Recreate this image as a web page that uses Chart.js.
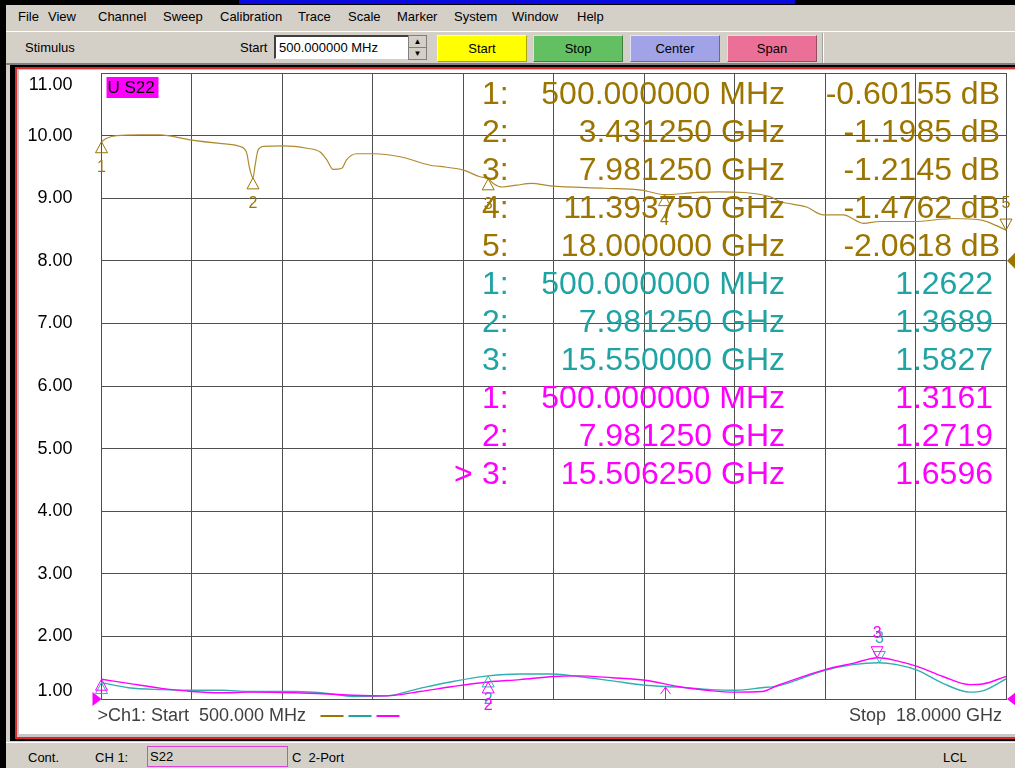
<!DOCTYPE html>
<html>
<head>
<meta charset="utf-8">
<title>S22 sweep</title>
<script src="https://cdn.jsdelivr.net/npm/chart.js@4.4.1/dist/chart.umd.min.js"></script>
<style>
  body { margin: 0; width: 1015px; height: 768px; overflow: hidden; position: relative;
         background: #d4d0c8; font-family: "Liberation Sans", Arial, sans-serif; font-size: 13px; color: #000; }
  .abs { position: absolute; white-space: nowrap; }
  .menu { top: 9px; }
  .btn { top: 35px; height: 25px; line-height: 25px; text-align: center;
         border-top: 1px solid rgba(255,255,255,0.7); border-left: 1px solid rgba(255,255,255,0.7);
         border-right: 1px solid rgba(0,0,0,0.35); border-bottom: 1px solid rgba(0,0,0,0.35); }
  #plotWin canvas { position: absolute; left: 0; top: 0; }
</style>
</head>
<body>
<!-- window edges -->
<div class="abs" style="left:0;top:0;width:1015px;height:5px;background:#000"></div>
<div class="abs" style="left:239px;top:0;width:556px;height:4px;background:#0a0ae0"></div>
<div class="abs" style="left:0;top:0;width:6px;height:768px;background:#000"></div>

<!-- menu bar -->
<div class="abs menu" style="left:18px">File</div>
<div class="abs menu" style="left:48px">View</div>
<div class="abs menu" style="left:98px">Channel</div>
<div class="abs menu" style="left:163px">Sweep</div>
<div class="abs menu" style="left:220px">Calibration</div>
<div class="abs menu" style="left:298px">Trace</div>
<div class="abs menu" style="left:348px">Scale</div>
<div class="abs menu" style="left:397px">Marker</div>
<div class="abs menu" style="left:454px">System</div>
<div class="abs menu" style="left:512px">Window</div>
<div class="abs menu" style="left:577px">Help</div>
<div class="abs" style="left:6px;top:31px;width:1009px;height:1px;background:#fff"></div>

<!-- stimulus toolbar -->
<div class="abs" style="left:25px;top:40px">Stimulus</div>
<div class="abs" style="left:240px;top:40px">Start</div>
<div class="abs" style="left:274px;top:35px;width:129px;height:21px;background:#fff;border-top:2px solid #404040;border-left:2px solid #404040;border-right:1px solid #fff;border-bottom:1px solid #fff;line-height:21px;padding-left:3px;box-sizing:content-box">500.000000 MHz</div>
<div class="abs" style="left:408px;top:35px;width:17px;height:11px;background:#d4d0c8;border:1px solid #808080;font-size:8px;line-height:11px;text-align:center">&#9650;</div>
<div class="abs" style="left:408px;top:47px;width:17px;height:11px;background:#d4d0c8;border:1px solid #808080;font-size:8px;line-height:11px;text-align:center">&#9660;</div>
<div class="abs btn" style="left:437px;width:88px;background:#ffff00">Start</div>
<div class="abs btn" style="left:533px;width:88px;background:#62c062">Stop</div>
<div class="abs btn" style="left:630px;width:88px;background:#a2a2e6">Center</div>
<div class="abs btn" style="left:727px;width:88px;background:#ea7098">Span</div>
<div class="abs" style="left:823px;top:33px;width:1px;height:30px;background:#fff"></div>
<div class="abs" style="left:822px;top:33px;width:1px;height:30px;background:#a0a0a0"></div>

<!-- plot window frame -->
<div class="abs" style="left:6px;top:63px;width:1009px;height:2px;background:#808080"></div>
<div class="abs" style="left:10px;top:65px;width:1005px;height:676px;background:#000"></div>
<div class="abs" style="left:15px;top:67px;width:1000px;height:672px;background:#e02828"></div>
<div class="abs" style="left:17px;top:69px;width:998px;height:668px;background:#c8c8c8"></div>
<div id="plotWin" class="abs" style="left:19px;top:70px;width:996px;height:664px;background:#fff">
  <canvas id="vnaChart" width="996" height="664"></canvas>
</div>

<!-- status bar -->
<div class="abs" style="left:6px;top:742px;width:1009px;height:1px;background:#fff"></div>
<div class="abs" style="left:28px;top:750px">Cont.</div>
<div class="abs" style="left:95px;top:750px">CH 1:</div>
<div class="abs" style="left:147px;top:746px;width:137px;height:19px;border:1px solid #e040e0;line-height:19px;padding-left:2px;box-sizing:content-box">S22</div>
<div class="abs" style="left:292px;top:750px">C&nbsp; 2-Port</div>
<div class="abs" style="left:943px;top:750px">LCL</div>

<script>
'use strict';

// Stimulus grid (GHz): 10 divisions from 500 MHz to 18 GHz
const gridFreqs = [0.5, 2.25, 4.0, 5.75, 7.5, 9.25, 11.0, 12.75, 14.5, 16.25, 18.0];

// Response grid (SWR, 1 unit/div) and its labels
const swrTicks = [1, 2, 3, 4, 5, 6, 7, 8, 9, 10, 11];
const swrTickLabels = ['1.00', '2.00', '3.00', '4.00', '5.00', '6.00', '7.00', '8.00', '9.00', '10.00', '11.00'];

// dB trace (brown)
const brownFreqs = [0.50, 0.60, 0.79, 1.24, 1.63, 2.21, 2.79, 3.18, 3.31, 3.36, 3.43125, 3.47, 3.53, 3.63,
  4.02, 4.47, 4.73, 4.86, 4.98, 5.15, 5.24, 5.44, 5.76, 6.28, 6.86, 7.05, 7.50, 7.82, 7.98125, 8.08,
  8.25, 8.53, 8.82, 9.18, 10.24, 10.95, 11.39375, 12.02, 12.44, 13.43, 13.63, 14.14, 14.47, 14.85,
  15.24, 15.56, 16.21, 16.98, 17.55, 17.79, 18.0];
const brownDb = [-0.60155, -0.545, -0.50, -0.49, -0.49, -0.57, -0.63, -0.68, -0.79, -1.02, -1.1985, -1.0, -0.74, -0.68,
  -0.67, -0.71, -0.77, -0.90, -1.06, -1.04, -0.90, -0.80, -0.80, -0.85, -0.99, -1.01, -1.07, -1.18, -1.2145, -1.29,
  -1.35, -1.32, -1.29, -1.33, -1.37, -1.40, -1.4762, -1.44, -1.43, -1.51, -1.59, -1.68, -1.81, -1.81,
  -1.95, -1.92, -1.92, -1.87, -1.90, -1.98, -2.0618];

// SWR traces (teal and magenta)
const swrFreqs = [0.50, 1.02, 1.66, 2.25, 2.83, 3.37, 4.24, 4.88, 5.37, 6.02, 6.66, 7.30, 7.98125, 8.60, 9.24,
  9.72, 10.38, 11.02, 11.66, 12.31, 12.76, 13.28, 13.59, 14.50, 15.04, 15.53, 15.89, 16.28, 16.78, 17.30, 17.55, 18.00];
const tealSwr = [1.2622, 1.18, 1.15, 1.14, 1.14, 1.12, 1.12, 1.09, 1.04, 1.05, 1.17, 1.28, 1.3689, 1.40, 1.40,
  1.36, 1.29, 1.22, 1.19, 1.15, 1.14, 1.18, 1.21, 1.46, 1.55, 1.58, 1.55, 1.46, 1.25, 1.11, 1.13, 1.32];
const magentaSwr = [1.3161, 1.25, 1.17, 1.12, 1.10, 1.11, 1.10, 1.08, 1.06, 1.05, 1.12, 1.20, 1.2719, 1.31, 1.36,
  1.37, 1.34, 1.30, 1.20, 1.13, 1.11, 1.12, 1.22, 1.47, 1.57, 1.66, 1.61, 1.52, 1.36, 1.23, 1.24, 1.36];

// Marker readouts
const brownMarkerFreqs = [0.5, 3.43125, 7.98125, 11.39375, 18.0];
const brownMarkerDb = [-0.60155, -1.1985, -1.2145, -1.4762, -2.0618];
const tealMarkerFreqs = [0.5, 7.98125, 15.55];
const tealMarkerSwr = [1.2622, 1.3689, 1.5827];
const magentaMarkerFreqs = [0.5, 7.98125, 15.50625];
const magentaMarkerSwr = [1.3161, 1.2719, 1.6596];

// Colours
const BROWN_TEXT = '#9c7400';
const BROWN_LINE = '#b08a30';
const TEAL_TEXT = '#1fa3a3';
const TEAL_LINE = '#2fb0b0';
const MAGENTA = '#ff00ff';
const GRID = '#505050';
const FONT = '"Liberation Sans", Arial, sans-serif';

// dB trace scale (1 dB/div, hidden axis)
const DB_TOP = 0.534;
const DB_BOTTOM = -9.81;

function toPoints(xs, ys) {
    return xs.map((f, i) => ({ x: f, y: ys[i] }));
}

function fmtFreq(f) {
    return f < 1 ? (f * 1000).toFixed(6) + ' MHz' : f.toFixed(6) + ' GHz';
}

/**
 * Draw a marker triangle, apex on the trace
 */
function drawMarker(ctx, px, py, color, pointsDown, label, labelGap) {
    ctx.strokeStyle = color;
    ctx.lineWidth = 1;
    ctx.beginPath();
    if (pointsDown) {
        ctx.moveTo(px, py);
        ctx.lineTo(px - 6, py - 11);
        ctx.lineTo(px + 6, py - 11);
    } else {
        ctx.moveTo(px, py);
        ctx.lineTo(px - 6, py + 11);
        ctx.lineTo(px + 6, py + 11);
    }
    ctx.closePath();
    ctx.stroke();
    if (label) {
        ctx.fillStyle = color;
        ctx.font = '16px ' + FONT;
        ctx.textAlign = 'center';
        ctx.textBaseline = 'middle';
        ctx.fillText(label, px, pointsDown ? py - labelGap : py + labelGap);
    }
}

const vnaOverlay = {
    id: 'vnaOverlay',
    afterDraw(chart) {
        const { ctx, chartArea: a, scales } = chart;
        const x = scales.x, y = scales.y, yDb = scales.yDb;
        ctx.save();

        // response axis labels, kept inside the graticule at both ends
        ctx.font = '18px ' + FONT;
        ctx.fillStyle = '#000';
        ctx.textAlign = 'right';
        ctx.textBaseline = 'middle';
        swrTicks.forEach((v, i) => {
            let py = y.getPixelForValue(v);
            py = Math.min(Math.max(py, a.top + 12), a.bottom - 8);
            ctx.fillText(swrTickLabels[i], a.left - 29, py);
        });

        // active trace tag
        ctx.fillStyle = MAGENTA;
        ctx.fillRect(a.left + 5, a.top + 4, 52, 21);
        ctx.fillStyle = '#000';
        ctx.font = '17px ' + FONT;
        ctx.textAlign = 'left';
        ctx.fillText('U S22', a.left + 6, a.top + 15);

        // marker readout table
        const rows = [];
        brownMarkerFreqs.forEach((f, i) => rows.push({ c: BROWN_TEXT, n: i + 1, f, v: brownMarkerDb[i].toPrecision(5) + ' dB', r: 981 }));
        tealMarkerFreqs.forEach((f, i) => rows.push({ c: TEAL_TEXT, n: i + 1, f, v: tealMarkerSwr[i].toFixed(4), r: 974 }));
        magentaMarkerFreqs.forEach((f, i) => rows.push({ c: MAGENTA, n: i + 1, f, v: magentaMarkerSwr[i].toFixed(4), r: 974 }));
        ctx.font = '32px ' + FONT;
        rows.forEach((row, i) => {
            const ry = 25 + i * 38;
            ctx.fillStyle = row.c;
            ctx.textAlign = 'left';
            ctx.fillText(row.n + ':', 463, ry);
            ctx.textAlign = 'right';
            ctx.fillText(fmtFreq(row.f), 766, ry);
            ctx.fillText(row.v, row.r, ry);
        });
        ctx.textAlign = 'left';
        ctx.fillStyle = MAGENTA;
        ctx.fillText('>', 435, 25 + 10 * 38);

        // markers on the traces
        brownMarkerFreqs.forEach((f, i) => {
            const px = x.getPixelForValue(f), py = yDb.getPixelForValue(brownMarkerDb[i]);
            drawMarker(ctx, px, py, BROWN_TEXT, i === 4, String(i + 1), 26);
        });
        tealMarkerFreqs.forEach((f, i) => {
            const px = x.getPixelForValue(f), py = y.getPixelForValue(tealMarkerSwr[i]);
            drawMarker(ctx, px, py, TEAL_LINE, i === 2, i === 0 ? '' : String(i + 1), 24);
        });
        magentaMarkerFreqs.forEach((f, i) => {
            const px = x.getPixelForValue(f), py = y.getPixelForValue(magentaMarkerSwr[i]);
            drawMarker(ctx, px, py, MAGENTA, i === 2, i === 0 ? '' : String(i + 1), 24);
        });

        // marker 4 stimulus arrow on the SWR traces
        const ax = Math.round(x.getPixelForValue(brownMarkerFreqs[3])) + 0.5;
        const ay = y.getPixelForValue(1.19);
        ctx.strokeStyle = MAGENTA;
        ctx.lineWidth = 1;
        ctx.beginPath();
        ctx.moveTo(ax, a.bottom);
        ctx.lineTo(ax, ay);
        ctx.moveTo(ax - 5, ay + 7);
        ctx.lineTo(ax, ay);
        ctx.lineTo(ax + 5, ay + 7);
        ctx.stroke();

        // reference position arrows
        const refDbY = y.getPixelForValue(8);
        ctx.fillStyle = BROWN_TEXT;
        ctx.beginPath();
        ctx.moveTo(a.right + 1, refDbY);
        ctx.lineTo(a.right + 9, refDbY - 8);
        ctx.lineTo(a.right + 17, refDbY);
        ctx.lineTo(a.right + 9, refDbY + 8);
        ctx.closePath();
        ctx.fill();
        const refY = y.getPixelForValue(1);
        ctx.fillStyle = MAGENTA;
        ctx.beginPath();
        ctx.moveTo(a.right + 1, refY);
        ctx.lineTo(a.right + 10, refY - 7);
        ctx.lineTo(a.right + 10, refY + 7);
        ctx.closePath();
        ctx.fill();
        ctx.beginPath();
        ctx.moveTo(a.left - 9, refY - 7);
        ctx.lineTo(a.left - 9, refY + 7);
        ctx.lineTo(a.left, refY);
        ctx.closePath();
        ctx.fill();

        // channel footer
        ctx.font = '18px ' + FONT;
        ctx.fillStyle = '#404040';
        ctx.textAlign = 'left';
        ctx.fillText('>Ch1: Start  500.000 MHz', a.left - 4, a.bottom + 17);
        ctx.textAlign = 'right';
        ctx.fillText('Stop  18.0000 GHz', a.right - 4, a.bottom + 17);
        [BROWN_TEXT, TEAL_TEXT, MAGENTA].forEach((c, i) => {
            ctx.strokeStyle = c;
            ctx.lineWidth = 2;
            ctx.beginPath();
            ctx.moveTo(a.left + 219 + i * 28, a.bottom + 17);
            ctx.lineTo(a.left + 242 + i * 28, a.bottom + 17);
            ctx.stroke();
        });
        ctx.restore();
    }
};

function init() {
    const ctx = document.getElementById('vnaChart');
    const gridOpts = { color: GRID, lineWidth: 1, drawTicks: false };
    new Chart(ctx, {
        type: 'line',
        data: {
            datasets: [
                { label: 'S22 dB', data: toPoints(brownFreqs, brownDb), yAxisID: 'yDb', order: 3,
                  borderColor: BROWN_LINE, borderWidth: 1.2, pointRadius: 0, cubicInterpolationMode: 'monotone' },
                { label: 'SWR 1', data: toPoints(swrFreqs, tealSwr), yAxisID: 'y', order: 2,
                  borderColor: TEAL_LINE, borderWidth: 1.4, pointRadius: 0, cubicInterpolationMode: 'monotone' },
                { label: 'SWR 2', data: toPoints(swrFreqs, magentaSwr), yAxisID: 'y', order: 1,
                  borderColor: MAGENTA, borderWidth: 1.4, pointRadius: 0, cubicInterpolationMode: 'monotone' }
            ]
        },
        options: {
            responsive: false,
            animation: false,
            events: [],
            layout: { padding: { left: 82.5, top: 3, right: 9, bottom: 35 } },
            plugins: { legend: { display: false }, tooltip: { enabled: false } },
            scales: {
                x: {
                    type: 'linear', min: 0.5, max: 18,
                    afterBuildTicks: s => { s.ticks = gridFreqs.map(v => ({ value: v })); },
                    grid: gridOpts,
                    border: { display: true, color: GRID },
                    ticks: { display: false }
                },
                y: {
                    type: 'linear', min: 1, max: 11,
                    afterBuildTicks: s => { s.ticks = swrTicks.map(v => ({ value: v })); },
                    grid: gridOpts,
                    border: { display: true, color: GRID },
                    ticks: { display: false }
                },
                yDb: { type: 'linear', min: DB_BOTTOM, max: DB_TOP, display: false }
            }
        },
        plugins: [vnaOverlay]
    });
}

init();
</script>
</body>
</html>
